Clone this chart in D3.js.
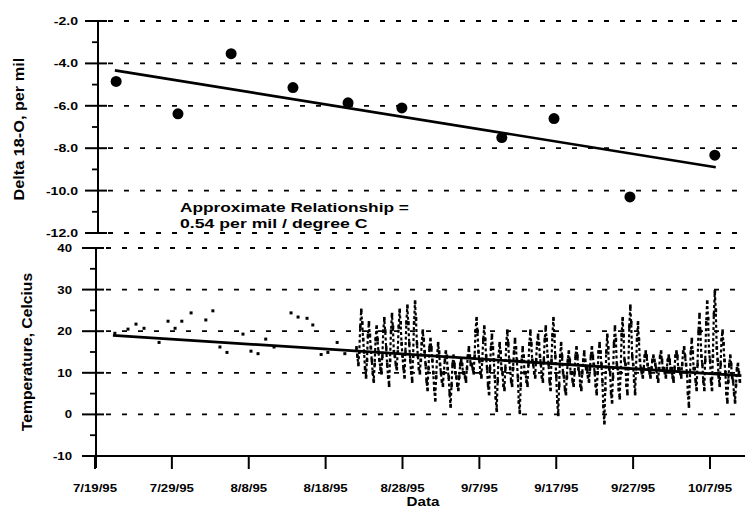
<!DOCTYPE html>
<html>
<head>
<meta charset="utf-8">
<script src="https://cdn.jsdelivr.net/npm/d3@7/dist/d3.min.js"></script>
<style>
  html, body { margin: 0; padding: 0; background: #fff; }
  svg { display: block; }
  text { font-family: "Liberation Sans", Arial, sans-serif; font-weight: bold; fill: #000; }
</style>
</head>
<body>
<svg id="chart" width="745" height="510"></svg>
<script>
// ---------------- data ----------------
const isoDates = ["1995-07-21T18:00Z","1995-07-29T19:00Z","1995-08-05T17:00Z","1995-08-13T18:00Z","1995-08-20T22:00Z",
                  "1995-08-27T22:00Z","1995-09-09T22:00Z","1995-09-16T17:00Z","1995-09-26T14:00Z","1995-10-07T15:00Z"];
const isoValues = [-4.85, -6.38, -3.54, -5.14, -5.86, -6.10, -7.50, -6.60, -10.30, -8.33];

const isoFitDates = ["1995-07-21T14:00Z", "1995-10-07T18:00Z"];
const isoFitValues = [-4.33, -8.9];

const tempSparseDates = ["1995-07-21T14:00Z","1995-07-23T07:00Z","1995-07-24T08:00Z","1995-07-25T09:00Z","1995-07-27T08:00Z",
  "1995-07-28T12:00Z","1995-07-29T10:00Z","1995-07-30T07:00Z","1995-07-31T12:00Z","1995-08-02T10:00Z","1995-08-03T08:00Z",
  "1995-08-04T06:00Z","1995-08-05T04:00Z","1995-08-07T06:00Z","1995-08-08T07:00Z","1995-08-09T05:00Z","1995-08-10T05:00Z",
  "1995-08-11T07:00Z","1995-08-13T12:00Z","1995-08-14T10:00Z","1995-08-15T14:00Z","1995-08-16T08:00Z","1995-08-17T10:00Z",
  "1995-08-18T07:00Z","1995-08-19T12:00Z","1995-08-20T12:00Z"];
const tempSparseValues = [19.5, 20.5, 21.7, 20.7, 17.3, 22.4, 20.7, 22.4, 24.4, 22.7, 24.9,
  16.2, 14.9, 19.3, 15.2, 14.6, 18.1, 16.2, 24.4, 23.4, 23.1, 21.5, 14.4, 14.9, 17.3, 14.6];

// dense record: one row per day from 22 Aug 1995, readings every 3 hours (00,03,...,21 h)
const tempDenseStart = "1995-08-22T00:00Z";
const tempDenseStepHours = 3;
const tempDenseDays = [
  [16,14,12,15,21,25,22,18],   // 8/22
  [15,11,9,13,19,22,19,16],
  [13,10,8,12,18,21,18,15],
  [13,11,10,14,20,23,20,16],
  [12,9,7,13,20,24,21,15],
  [14,12,11,15,21,25,22,17],
  [14,11,9,15,22,26,22,17],
  [13,10,8,14,22,27,23,17],    // 8/29
  [14,11,10,13,17,20,18,15],
  [12,8,6,11,16,18,16,13],
  [10,6,3.5,9,14,17,15,12],    // 9/1
  [10,8,7,10,13,15,14,11],
  [9,5,2,7,12,14,12,10],
  [9,7,6,9,12,13,12,10],
  [10,9,8,11,14,16,14,12],
  [12,11,10,14,20,23,20,15],
  [13,10,9,13,18,21,18,14],
  [11,7,5,11,16,19,16,13],
  [9,4,1,8,14,17,15,11],       // 9/9
  [10,7,6,11,17,20,17,13],
  [11,8,7,11,15,18,16,13],
  [9,3,0.5,7,13,16,14,10],
  [10,8,7,12,17,20,17,13],
  [12,10,9,13,17,19,17,14],
  [12,9,8,13,18,21,18,14],
  [12,8,6,13,19,23,19,14],
  [9,3,0,7,14,17,14,10],       // 9/17
  [9,6,5,9,13,15,13,10],
  [10,8,7,10,14,16,14,11],
  [10,7,6,10,13,15,13,11],
  [11,9,8,11,14,16,14,12],
  [10,7,5,10,15,17,15,12],
  [8,2,-2,6,15,19,16,11],
  [10,5,3,9,17,21,18,12],
  [11,6,4,10,19,23,19,13],
  [12,7,5,11,21,26,22,14],
  [12,8,5,11,18,22,18,13],     // 9/27
  [11,10,9,11,14,15,14,12],
  [11,10,9,11,13,14,13,12],
  [11,9,8,11,14,15,13,11],
  [11,10,9,11,13,14,13,11],    // 10/1
  [11,9,8,11,14,15,14,11],
  [11,10,9,12,15,16,14,12],
  [10,5,2,8,15,18,15,11],
  [11,8,6,12,20,24,20,14],
  [12,8,6,13,22,27,23,15],
  [13,8,6,14,24,29.5,25,16],   // 10/7
  [13,9,7,12,18,20,17,13],
  [10,5,3,8,12,14,12,9],
  [8,5,3,7,11,12,10,8]         // 10/10
];

const tempFitDates = ["1995-07-21T08:00Z", "1995-10-11T02:00Z"];
const tempFitValues = [19.0, 9.3];

const isoTickValues = [-2, -4, -6, -8, -10, -12];
const isoTickLabels = ["-2.0", "-4.0", "-6.0", "-8.0", "-10.0", "-12.0"];
const tempTickValues = [40, 30, 20, 10, 0, -10];
const tempTickLabels = ["40", "30", "20", "10", "0", "-10"];
const xTickDates = ["1995-07-19","1995-07-29","1995-08-08","1995-08-18","1995-08-28","1995-09-07","1995-09-17","1995-09-27","1995-10-07"];
const xTickLabels = ["7/19/95","7/29/95","8/8/95","8/18/95","8/28/95","9/7/95","9/17/95","9/27/95","10/7/95"];

// ---------------- drawing ----------------
const svg = d3.select("#chart");
const P = s => new Date(s.length <= 10 ? s + "T00:00Z" : s);

const x = d3.scaleUtc().domain([P("1995-07-19"), P("1995-10-07")]).range([95, 710]);
const yIso = d3.scaleLinear().domain([-12, -2]).range([233, 21]);
const yTemp = d3.scaleLinear().domain([-10, 40]).range([456, 248]);
const xRight = 742;

function stretchText(g, str, tx, ty, size, sx, anchor, rot) {
  return g.append("text")
    .attr("transform", `translate(${tx},${ty})` + (rot ? ` rotate(${rot})` : "") + ` scale(${sx},1)`)
    .attr("text-anchor", anchor)
    .style("font-size", size + "px")
    .text(str);
}

svg.append("defs").append("clipPath").attr("id", "plotclip")
  .append("rect").attr("x", 90).attr("y", 0).attr("width", xRight - 90).attr("height", 510);

// ---- top panel ----
const topG = svg.append("g");
const topAxisX = 98;
topG.selectAll("line.grid").data(isoTickValues).join("line")
  .attr("x1", topAxisX + 10).attr("x2", xRight)
  .attr("y1", d => yIso(d)).attr("y2", d => yIso(d))
  .attr("stroke", "#000").attr("stroke-width", 1.8).attr("stroke-dasharray", "5,11");
topG.append("line").attr("x1", topAxisX).attr("x2", topAxisX)
  .attr("y1", yIso(-2)).attr("y2", yIso(-12)).attr("stroke", "#000").attr("stroke-width", 2);
topG.selectAll("line.maj").data(isoTickValues).join("line")
  .attr("x1", topAxisX - 13).attr("x2", topAxisX + 9)
  .attr("y1", d => yIso(d)).attr("y2", d => yIso(d)).attr("stroke", "#000").attr("stroke-width", 2);
topG.selectAll("line.min").data(d3.range(-11, -2, 2)).join("line")
  .attr("x1", topAxisX - 6).attr("x2", topAxisX)
  .attr("y1", d => yIso(d)).attr("y2", d => yIso(d)).attr("stroke", "#000").attr("stroke-width", 1.8);
isoTickValues.forEach((v, i) => stretchText(topG, isoTickLabels[i], 78, yIso(v) + 4, 11, 1.28, "end"));

topG.append("path")
  .attr("d", d3.line().x((d, i) => x(P(isoFitDates[i]))).y(d => yIso(d))(isoFitValues))
  .attr("fill", "none").attr("stroke", "#000").attr("stroke-width", 2.6);
topG.selectAll("circle.iso").data(isoValues).join("circle")
  .attr("cx", (d, i) => x(P(isoDates[i]))).attr("cy", d => yIso(d)).attr("r", 5.5).attr("fill", "#000");

stretchText(topG, "Delta 18-O, per mil", 24, yIso(-7.1), 14, 1.16, "middle", -90);
stretchText(topG, "Approximate Relationship =", 180, 212, 13, 1.33, "start");
stretchText(topG, "0.54 per mil / degree C", 180, 228, 13, 1.36, "start");

// ---- bottom panel ----
const botG = svg.append("g");
const botAxisX = 96;
botG.selectAll("line.grid").data(tempTickValues.filter(d => d > -10)).join("line")
  .attr("x1", botAxisX + 10).attr("x2", xRight)
  .attr("y1", d => yTemp(d)).attr("y2", d => yTemp(d))
  .attr("stroke", "#000").attr("stroke-width", 1.8).attr("stroke-dasharray", "5,11");
botG.append("line").attr("x1", botAxisX).attr("x2", botAxisX)
  .attr("y1", yTemp(40)).attr("y2", yTemp(-10) + 12).attr("stroke", "#000").attr("stroke-width", 2);
botG.selectAll("line.maj").data(tempTickValues).join("line")
  .attr("x1", botAxisX - 14).attr("x2", botAxisX + 8)
  .attr("y1", d => yTemp(d)).attr("y2", d => yTemp(d)).attr("stroke", "#000").attr("stroke-width", 2);
botG.selectAll("line.min").data(d3.range(-5, 40, 10)).join("line")
  .attr("x1", botAxisX - 6).attr("x2", botAxisX + 1)
  .attr("y1", d => yTemp(d)).attr("y2", d => yTemp(d)).attr("stroke", "#000").attr("stroke-width", 1.8);
tempTickValues.forEach((v, i) => stretchText(botG, tempTickLabels[i], 72, yTemp(v) + 4, 11, 1.2, "end"));

// x axis
botG.append("line").attr("x1", botAxisX).attr("x2", 745)
  .attr("y1", yTemp(-10)).attr("y2", yTemp(-10)).attr("stroke", "#000").attr("stroke-width", 2.2);
botG.selectAll("line.xt").data(xTickDates).join("line")
  .attr("x1", d => x(P(d))).attr("x2", d => x(P(d)))
  .attr("y1", yTemp(-10)).attr("y2", yTemp(-10) + 13).attr("stroke", "#000").attr("stroke-width", 2);
xTickDates.forEach((d, i) => stretchText(botG, xTickLabels[i], x(P(d)), 492, 11.5, 1.15, "middle"));
stretchText(botG, "Data", 423, 506, 13, 1.17, "middle");
stretchText(botG, "Temperature, Celcius", 32, yTemp(15), 14, 1.12, "middle", -90);

// temperature points
const pts = botG.append("g").attr("clip-path", "url(#plotclip)");
pts.selectAll("rect.sp").data(tempSparseValues).join("rect")
  .attr("x", (d, i) => x(P(tempSparseDates[i])) - 1.5).attr("y", d => yTemp(d) - 1.5)
  .attr("width", 3).attr("height", 3).attr("fill", "#000");
const t0 = P(tempDenseStart).getTime();
const dense = [];
tempDenseDays.forEach((day, di) => day.forEach((v, k) => {
  dense.push({ t: new Date(t0 + (di * 24 + k * tempDenseStepHours) * 3600e3), v });
}));
// continuous record drawn as a dotted trace (successive readings sit ~1 px apart, giving the vertical streaks)
pts.append("path")
  .attr("d", d3.line().x(d => x(d.t)).y(d => yTemp(d.v))(dense))
  .attr("fill", "none").attr("stroke", "#000").attr("stroke-width", 2.2)
  .attr("stroke-dasharray", "3,2.5");
pts.selectAll("rect.dn").data(dense).join("rect")
  .attr("x", d => x(d.t) - 1.2).attr("y", d => yTemp(d.v) - 1.8)
  .attr("width", 2.6).attr("height", 3.6).attr("fill", "#000");

botG.append("path")
  .attr("d", d3.line().x((d, i) => x(P(tempFitDates[i]))).y(d => yTemp(d))(tempFitValues))
  .attr("fill", "none").attr("stroke", "#000").attr("stroke-width", 2.8);
</script>
</body>
</html>
